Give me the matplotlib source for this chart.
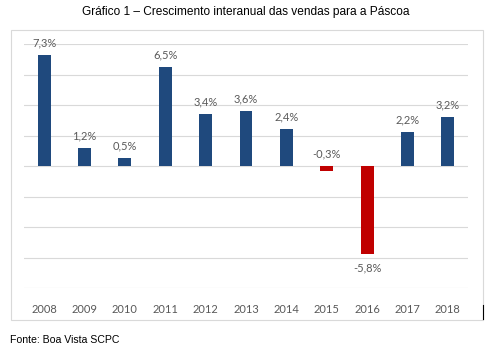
import matplotlib.pyplot as plt
from matplotlib.patches import Rectangle
from matplotlib.lines import Line2D

years = ['2008', '2009', '2010', '2011', '2012', '2013', '2014', '2015', '2016', '2017', '2018']
growth = [7.3, 1.2, 0.5, 6.5, 3.4, 3.6, 2.4, -0.3, -5.8, 2.2, 3.2]

BLUE = '#1F497D'
RED = '#C00000'
GREY_TXT = '#595959'

fig = plt.figure(figsize=(4.9, 3.52), dpi=100)
fig.patch.set_facecolor('white')

# chart frame
fig.patches.append(Rectangle((11/490, 1-320/352), 472/490, 290/352, transform=fig.transFigure,
                             fill=False, ec='#D9D9D9', lw=0.8))
fig.lines.append(Line2D([482.5/490, 482.5/490], [1-319/352, 1-305/352], transform=fig.transFigure,
                        color='black', lw=0.8))

ax = fig.add_axes([24/490, 1-288/352, 444/490, 244/352])

colors = [BLUE if v >= 0 else RED for v in growth]
x = list(range(len(years)))
ax.bar(x, growth, width=0.32, color=colors, zorder=3)

ax.set_ylim(-8, 8)
ax.set_xlim(-0.5, len(years) - 0.5)
ax.set_yticks([-8, -6, -4, -2, 0, 2, 4, 6, 8])
ax.yaxis.grid(True, color='#D9D9D9', lw=0.8, zorder=0)
ax.tick_params(axis='y', left=False, labelleft=False)
ax.tick_params(axis='x', bottom=False, pad=8)
ax.set_xticks(x)
ax.set_xticklabels(years, fontsize=8, color=GREY_TXT, family='Lato')
for s in ax.spines.values():
    s.set_visible(False)

# value labels
for xi, v in zip(x, growth):
    txt = f'{v:.1f}%'.replace('.', ',')
    if v > -0.5:
        ax.text(xi, max(v, 0) + 0.8, txt, ha='center', va='center',
                fontsize=8, color=GREY_TXT, family='Lato')
    else:
        ax.text(xi, v - 0.9, txt, ha='center', va='center',
                fontsize=8, color=GREY_TXT, family='Lato')

fig.text(246/490, 1-12/352, 'Gráfico 1 – Crescimento interanual das vendas para a Páscoa',
         ha='center', va='center', fontsize=8.6, family='Liberation Sans')
fig.text(10/490, 1-340/352, 'Fonte: Boa Vista SCPC', ha='left', va='center',
         fontsize=7.6, family='Liberation Sans')

fig.savefig('out.png', dpi=100)
